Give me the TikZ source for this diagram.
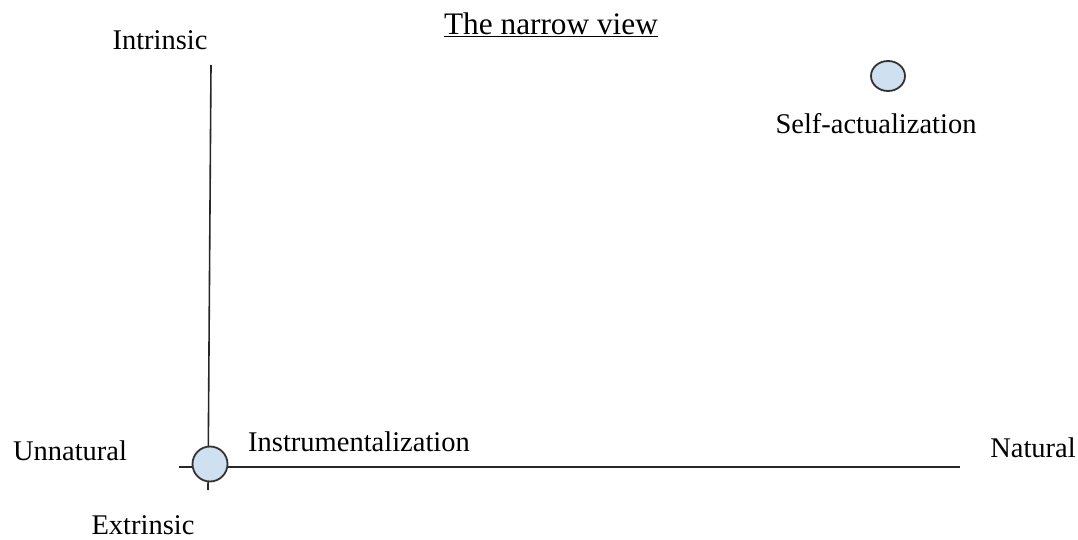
\documentclass[tikz,border=0pt]{standalone}
\usepackage{fontspec}
\setmainfont{Liberation Serif}
\usetikzlibrary{shapes.geometric}
\definecolor{dotfill}{RGB}{207,224,240}
\begin{document}
\begin{tikzpicture}[x=1pt,y=-1pt,
  lbl/.style={font=\fontsize{28.5}{32}\selectfont, inner sep=0pt},
  dot/.style={draw=black!80, line width=1.8pt, fill=dotfill, ellipse, inner sep=0pt},
  axis/.style={line width=1.6pt, draw=black!85}]
\useasboundingbox (0,0) rectangle (1078,540);
\coordinate (vtop) at (211,65);
\coordinate (vbot) at (208,490);
\coordinate (hleft) at (179,467);
\coordinate (hright) at (960,467);
\draw[axis] (vtop) -- (vbot);
\draw[axis] (hleft) -- (hright);
\node[dot, minimum width=35pt, minimum height=35pt] (instr) at (210,464) {};
\node[dot, minimum width=34pt, minimum height=30pt] (self) at (888,76) {};
\node[lbl] (intr) at (160,40) {Intrinsic};
\node[lbl, font=\fontsize{31.3}{34}\selectfont] (title) at (551,25) {\underline{The narrow view}};
\node[lbl] (selfl) at (876,124) {Self-actualization};
\node[lbl] (unnat) at (70,451) {Unnatural};
\node[lbl] (instrl) at (359,442) {Instrumentalization};
\node[lbl] (nat) at (1033,448) {Natural};
\node[lbl] (extr) at (143,525) {Extrinsic};
\end{tikzpicture}
\end{document}
